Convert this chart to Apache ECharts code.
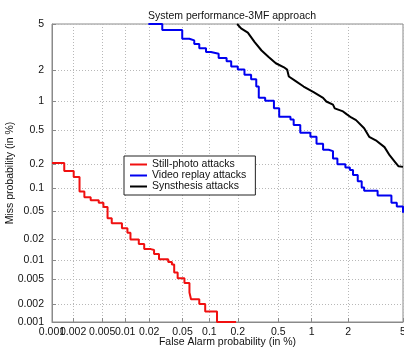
<!DOCTYPE html>
<html><head><meta charset="utf-8">
<script src="https://cdn.jsdelivr.net/npm/echarts@6/dist/echarts.min.js"></script>
<style>html,body{margin:0;padding:0;background:#fff}#c{width:404px;height:349px}</style>
</head><body><div id="c"></div>
<script>
const titleText = 'System performance-3MF approach';
const xName = 'False Alarm probability (in %)';
const yName = 'Miss probability (in %)';
const xTicks = [0.001, 0.002, 0.005, 0.01, 0.02, 0.05, 0.1, 0.2, 0.5, 1, 2, 5];
const yTicks = [0.001, 0.002, 0.005, 0.01, 0.02, 0.05, 0.1, 0.2, 0.5, 1, 2, 5];
const seriesNames = ['Still-photo attacks', 'Video replay attacks', 'Synsthesis attacks'];

const stillFA = [0.001,0.0015,0.00204,0.00246,0.00287,0.0035,0.0045,0.0052,0.0059,0.0067,0.0091,0.0107,0.0117,0.0149,0.0174,0.021,0.023,0.0264,0.034,0.0376,0.040,0.0439,0.0526,0.060,0.0625,0.0774,0.090,0.121,0.192];
const stillMiss = [0.207,0.166,0.139,0.091,0.077,0.070,0.065,0.057,0.040,0.034,0.029,0.025,0.020,0.0172,0.0145,0.0141,0.0123,0.0102,0.0093,0.0085,0.0064,0.0052,0.0044,0.0031,0.0024,0.002,0.0015,0.001,0.001];

const videoFA = [0.0196,0.0289,0.0496,0.0598,0.068,0.0774,0.0919,0.104,0.126,0.153,0.171,0.2,0.234,0.273,0.307,0.325,0.375,0.455,0.51,0.648,0.693,0.794,0.974,1.10,1.25,1.39,1.51,1.64,1.90,2.06,2.18,2.37,2.54,2.65,3.33,4.17,4.54,5];
const videoMiss = [5,4.47,3.80,3.68,3.44,3.16,2.93,2.83,2.60,2.43,2.18,2.04,1.83,1.66,1.41,1.09,1.02,0.851,0.692,0.650,0.565,0.465,0.418,0.35,0.297,0.287,0.234,0.2,0.183,0.170,0.148,0.123,0.103,0.093,0.081,0.065,0.058,0.0475];

const synthFA = [0.197,0.216,0.253,0.296,0.346,0.405,0.474,0.565,0.604,0.626,0.717,0.85,1.038,1.25,1.33,1.51,1.56,1.82,1.94,2.11,2.30,2.65,2.89,3.23,3.73,4.06,4.42,4.67,5];
const synthMiss = [5,4.62,4.27,3.56,3.02,2.65,2.33,2.14,2.04,1.76,1.60,1.41,1.24,1.09,1.0,0.929,0.851,0.79,0.74,0.682,0.639,0.521,0.418,0.382,0.319,0.255,0.213,0.189,0.186];

// inverse standard normal CDF (Acklam)
function probit(p) {
  const a = [-3.969683028665376e+01, 2.209460984245205e+02, -2.759285104469687e+02, 1.383577518672690e+02, -3.066479806614716e+01, 2.506628277459239e+00];
  const b = [-5.447609879822406e+01, 1.615858368580409e+02, -1.556989798598866e+02, 6.680131188771972e+01, -1.328068155288572e+01];
  const c = [-7.784894002430293e-03, -3.223964580411365e-01, -2.400758277161838e+00, -2.549732539343734e+00, 4.374664141464968e+00, 2.938163982698783e+00];
  const d = [7.784695709041462e-03, 3.224671290700398e-01, 2.445134137142996e+00, 3.754408661907416e+00];
  const plow = 0.02425;
  let q, r;
  if (p < plow) {
    q = Math.sqrt(-2 * Math.log(p));
    return (((((c[0]*q+c[1])*q+c[2])*q+c[3])*q+c[4])*q+c[5]) / ((((d[0]*q+d[1])*q+d[2])*q+d[3])*q+1);
  } else if (p <= 1 - plow) {
    q = p - 0.5; r = q*q;
    return (((((a[0]*r+a[1])*r+a[2])*r+a[3])*r+a[4])*r+a[5])*q / (((((b[0]*r+b[1])*r+b[2])*r+b[3])*r+b[4])*r+1);
  } else {
    q = Math.sqrt(-2 * Math.log(1 - p));
    return -(((((c[0]*q+c[1])*q+c[2])*q+c[3])*q+c[4])*q+c[5]) / ((((d[0]*q+d[1])*q+d[2])*q+d[3])*q+1);
  }
}
const toZ = v => probit(v / 100);
const pairs = (xs, ys) => xs.map((x, i) => [toZ(x), toZ(ys[i])]);
const xTickZ = xTicks.map(toZ);
const yTickZ = yTicks.map(toZ);
function labelFor(ticks) {
  return function (v) {
    for (const t of ticks) if (Math.abs(toZ(t) - v) < 1e-6) return String(t);
    return '';
  };
}

const FONT = 'Liberation Sans, Arial, Helvetica, sans-serif';
const axisCol = '#8a8a8a';
const gridLine = { show: true, lineStyle: { color: '#b8b8b8', type: [1, 2], width: 1 } };
const labelStyle = { hideOverlap: false, margin: 5, fontFamily: FONT, fontSize: 10.5, color: '#111' };

const chart = echarts.init(document.getElementById('c'), null, { renderer: 'canvas' });
chart.setOption({
  backgroundColor: '#fff',
  animation: false,
  title: {
    text: titleText, left: 143, top: 6,
    textStyle: { fontFamily: FONT, fontSize: 10.5, fontWeight: 'normal', color: '#111' }
  },
  legend: {
    orient: 'vertical', left: 124, top: 156,
    data: seriesNames,
    icon: 'rect', itemWidth: 17, itemHeight: 2, itemGap: 0,
    padding: [3, 9, 3, 6],
    borderColor: '#222', borderWidth: 1, backgroundColor: '#fff',
    textStyle: { fontFamily: FONT, fontSize: 10.5, color: '#111', lineHeight: 10 }
  },
  grid: { left: 52, right: 1, top: 24, bottom: 27, outerBoundsMode: 'none', containLabel: false, show: true, borderColor: axisCol, borderWidth: 1, backgroundColor: '#fff' },
  xAxis: [{
    type: 'value', position: 'bottom', min: xTickZ[0], max: xTickZ[xTickZ.length - 1],
    name: xName, nameLocation: 'middle', nameGap: 15, nameMoveOverlap: false,
    nameTextStyle: { fontFamily: FONT, fontSize: 10.5, color: '#111' },
    axisLine: { show: true, lineStyle: { color: axisCol } },
    axisTick: { show: true, inside: true, length: 4, customValues: xTickZ, lineStyle: { color: axisCol } },
    axisLabel: Object.assign({ customValues: xTickZ.slice(1), formatter: labelFor(xTicks), showMaxLabel: true }, labelStyle),
    splitLine: gridLine
  }, {
    type: 'value', position: 'bottom', offset: 0, min: xTickZ[0], max: xTickZ[xTickZ.length - 1],
    axisLine: { show: false }, axisTick: { show: false }, splitLine: { show: false },
    axisLabel: Object.assign({ customValues: [xTickZ[0]], formatter: labelFor(xTicks), showMinLabel: true }, labelStyle)
  }],
  yAxis: {
    type: 'value', min: yTickZ[0], max: yTickZ[yTickZ.length - 1],
    name: yName, nameLocation: 'middle', nameGap: 36, nameMoveOverlap: false,
    nameTextStyle: { fontFamily: FONT, fontSize: 10.5, color: '#111' },
    axisLine: { show: true, lineStyle: { color: axisCol } },
    axisTick: { show: true, inside: true, length: 4, customValues: yTickZ, lineStyle: { color: axisCol } },
    axisLabel: { customValues: yTickZ, formatter: labelFor(yTicks), hideOverlap: false, showMinLabel: true, showMaxLabel: true, margin: 8, fontFamily: FONT, fontSize: 10.5, color: '#111' },
    splitLine: gridLine
  },
  series: [
    { name: seriesNames[0], type: 'line', step: 'end', showSymbol: false, clip: false, data: pairs(stillFA, stillMiss), lineStyle: { color: '#f01010', width: 2 }, itemStyle: { color: '#f01010' } },
    { name: seriesNames[1], type: 'line', step: 'end', showSymbol: false, clip: false, data: pairs(videoFA, videoMiss), lineStyle: { color: '#0000f0', width: 2 }, itemStyle: { color: '#0000f0' } },
    { name: seriesNames[2], type: 'line', showSymbol: false, clip: false, data: pairs(synthFA, synthMiss), lineStyle: { color: '#000000', width: 2 }, itemStyle: { color: '#000000' } }
  ]
});
</script>
</body></html>
